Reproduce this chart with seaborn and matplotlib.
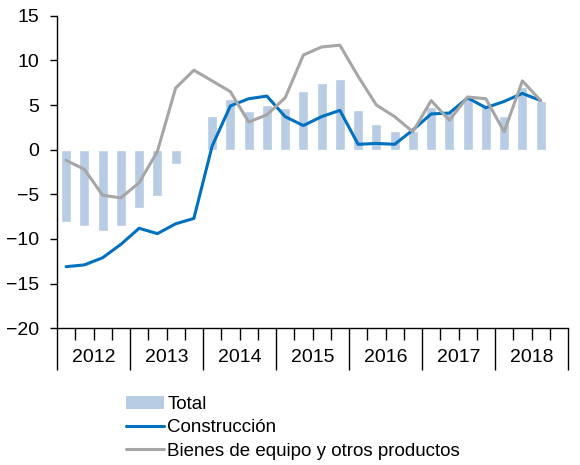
import numpy as np
import pandas as pd
import matplotlib
matplotlib.use('Agg')
import matplotlib.pyplot as plt
import matplotlib.transforms as mtransforms
from matplotlib.patches import Patch
from matplotlib.lines import Line2D
import seaborn as sns

# quarterly data, 2012 Q1 - 2018 Q3
years = ['2012', '2013', '2014', '2015', '2016', '2017', '2018']
total = [-8.1, -8.5, -9.1, -8.5, -6.5, -5.2, -1.6, -0.2,
         3.8, 5.7, 4.3, 5.0, 4.7, 6.6, 7.5, 7.9,
         4.4, 2.9, 2.1, 2.1, 4.8, 4.2, 5.8, 4.9,
         3.8, 7.0, 5.5]
construccion = [-13.1, -12.9, -12.1, -10.6, -8.8, -9.4, -8.3, -7.7,
                0.4, 4.9, 5.7, 6.0, 3.7, 2.7, 3.7, 4.4,
                0.6, 0.7, 0.6, 2.2, 4.0, 4.1, 5.8, 4.7,
                5.4, 6.3, 5.5]
bienes = [-1.2, -2.2, -5.1, -5.4, -3.7, -0.2, 6.9, 8.9,
          7.7, 6.5, 3.1, 3.9, 5.8, 10.6, 11.5, 11.7,
          8.2, 5.0, 3.7, 2.0, 5.5, 3.3, 5.9, 5.7,
          2.0, 7.7, 5.5]

df = pd.DataFrame({'q': np.arange(len(total)), 'Total': total,
                   'Construcción': construccion, 'Bienes': bienes})

sns.set_style('white')
plt.rcParams['font.family'] = ['Liberation Sans', 'DejaVu Sans']
plt.rcParams['text.color'] = 'black'
plt.rcParams['xtick.color'] = 'black'
plt.rcParams['ytick.color'] = 'black'
fs = 14

c_bar = '#b8cce4'
c_blue = '#0070c0'
c_grey = '#a6a6a6'

fig = plt.figure(figsize=(5.8, 4.65), dpi=100)
ax = fig.add_axes([57 / 580, 1 - 328.3 / 465, 511 / 580, (328.3 - 15.7) / 465])

sns.barplot(data=df, x='q', y='Total', color=c_bar, width=0.55, ax=ax, saturation=1)
sns.lineplot(data=df, x='q', y='Construcción', color=c_blue, linewidth=2.2, ax=ax)
sns.lineplot(data=df, x='q', y='Bienes', color=c_grey, linewidth=2.2, ax=ax)

n_slots = 4 * len(years)
ax.set_xlim(-0.5, n_slots - 0.5)
ax.set_ylim(-20, 15)
ax.set_yticks(np.arange(-20, 16, 5))
ax.set_xlabel('')
ax.set_ylabel('')

sns.despine(ax=ax)
for s in ['left', 'bottom']:
    ax.spines[s].set_color('#000000')
    ax.spines[s].set_linewidth(1.0)

# year boundaries as major ticks, quarter boundaries as minor ticks
ax.set_xticks(np.arange(-0.5, n_slots, 4))
ax.set_xticklabels([])
ax.set_xticks([b - 0.5 for b in range(n_slots + 1) if b % 4 != 0], minor=True)
ax.tick_params(axis='x', which='major', bottom=True, direction='out', length=30,
               width=1, color='black')
ax.tick_params(axis='x', which='minor', bottom=True, direction='out', length=8.6,
               width=1, color='black')
ax.tick_params(axis='y', left=True, direction='out', length=5, width=1, color='black',
               labelsize=fs, labelcolor='black', pad=8)

trans = mtransforms.blended_transform_factory(ax.transData, ax.transAxes)
for i, yr in enumerate(years):
    ax.text(4 * i + 1.5, -0.095, yr, transform=trans, ha='center', va='center',
            fontsize=fs, color='black')

handles = [Patch(facecolor=c_bar, edgecolor='none'),
           Line2D([0], [0], color=c_blue, lw=2.2),
           Line2D([0], [0], color=c_grey, lw=2.2)]
labels = ['Total', 'Construcción', 'Bienes de equipo y otros productos']
leg = fig.legend(handles, labels, loc='upper left', bbox_to_anchor=(126 / 580, 1 - 396 / 465),
                 frameon=False, fontsize=13.5, handlelength=2.0, handletextpad=0.2,
                 labelspacing=0.33, borderpad=0, borderaxespad=0, handleheight=0.7)
for t in leg.get_texts():
    t.set_color('black')

fig.savefig('out.png', dpi=100)
